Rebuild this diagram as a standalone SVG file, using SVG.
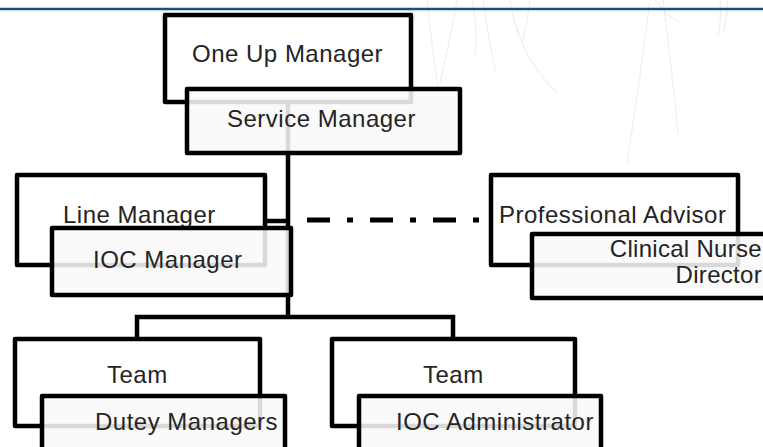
<svg xmlns="http://www.w3.org/2000/svg" width="763" height="447" viewBox="0 0 763 447">
  <style>
    .back { fill: #ffffff; stroke: #000000; stroke-width: 4.5; stroke-linejoin: round; }
    .front { fill: #f9f9f9; fill-opacity: 0.87; stroke: #000000; stroke-width: 4.5; stroke-linejoin: round; }
    .label { font-family: "Liberation Sans", Arial, sans-serif; font-size: 24px; letter-spacing: 0.5px; fill: #242424; }
    .right { text-anchor: end; letter-spacing: 0.3px; }
    .link { fill: none; stroke: #000000; stroke-width: 4.5; stroke-linejoin: miter; }
    .dotted { fill: none; stroke: #000000; stroke-width: 5; stroke-dasharray: 23 17 6 17; }
    .sketch { fill: none; stroke: #eeeeee; stroke-width: 1.2; stroke-linecap: round; }
  </style>

  <!-- faint pencil strokes behind the chart -->
  <g id="backdrop">
    <path class="sketch" d="M427,0 Q432,50 440,100"/>
    <path class="sketch" d="M457,0 Q450,40 440,83"/>
    <path class="sketch" d="M483,0 Q488,35 495,70"/>
    <path class="sketch" d="M472,0 Q478,30 475,55"/>
    <path class="sketch" d="M510,0 Q518,55 557,93"/>
    <path class="sketch" d="M530,0 Q528,20 522,42"/>
    <path class="sketch" d="M650,0 Q640,80 627,163"/>
    <path class="sketch" d="M663,0 Q672,70 678,133"/>
    <path class="sketch" d="M655,0 Q665,15 680,22"/>
    <path class="sketch" d="M720,0 Q722,18 718,35"/>
    <path class="sketch" d="M728,0 Q727,15 724,32"/>
  </g>

  <!-- header rule -->
  <line x1="0" y1="9" x2="763" y2="9" stroke="#1f4e7a" stroke-width="2.5"/>

  <!-- reporting lines -->
  <g id="connectors">
    <path class="link" d="M288,104 V317"/>
    <path class="link" d="M265,221 H288"/>
    <path class="link" d="M137,339 V317 H453 V339"/>
    <path class="dotted" d="M307,220 H484"/>
  </g>

  <g id="one-up-manager">
    <rect class="back" x="165" y="15" width="246" height="87"/>
    <text class="label" x="192" y="62">One Up Manager</text>
  </g>
  <g id="service-manager">
    <rect class="front" x="187" y="89" width="273" height="64"/>
    <text class="label" x="227" y="127">Service Manager</text>
  </g>

  <g id="line-manager">
    <rect class="back" x="17" y="175" width="248" height="90"/>
    <text class="label" x="63" y="223">Line Manager</text>
  </g>
  <g id="ioc-manager">
    <rect class="front" x="52" y="228" width="239" height="67"/>
    <text class="label" x="93" y="268">IOC Manager</text>
  </g>

  <g id="professional-advisor">
    <rect class="back" x="491" y="175" width="247" height="90"/>
    <text class="label" x="499" y="223">Professional Advisor</text>
  </g>
  <g id="clinical-nurse-director">
    <rect class="front" x="532" y="234" width="250" height="64"/>
    <text class="label right" x="762" y="257">Clinical Nurse</text>
    <text class="label right" x="762" y="283">Director</text>
  </g>

  <g id="team-duty">
    <rect class="back" x="15" y="339" width="245" height="87"/>
    <text class="label" x="107" y="383">Team</text>
  </g>
  <g id="duty-managers">
    <rect class="front" x="42" y="396" width="243" height="80"/>
    <text class="label" x="95" y="430">Dutey Managers</text>
  </g>

  <g id="team-admin">
    <rect class="back" x="332" y="339" width="243" height="87"/>
    <text class="label" x="423" y="383">Team</text>
  </g>
  <g id="ioc-administrator">
    <rect class="front" x="359" y="396" width="242" height="80"/>
    <text class="label" x="396" y="430">IOC Administrator</text>
  </g>
</svg>
